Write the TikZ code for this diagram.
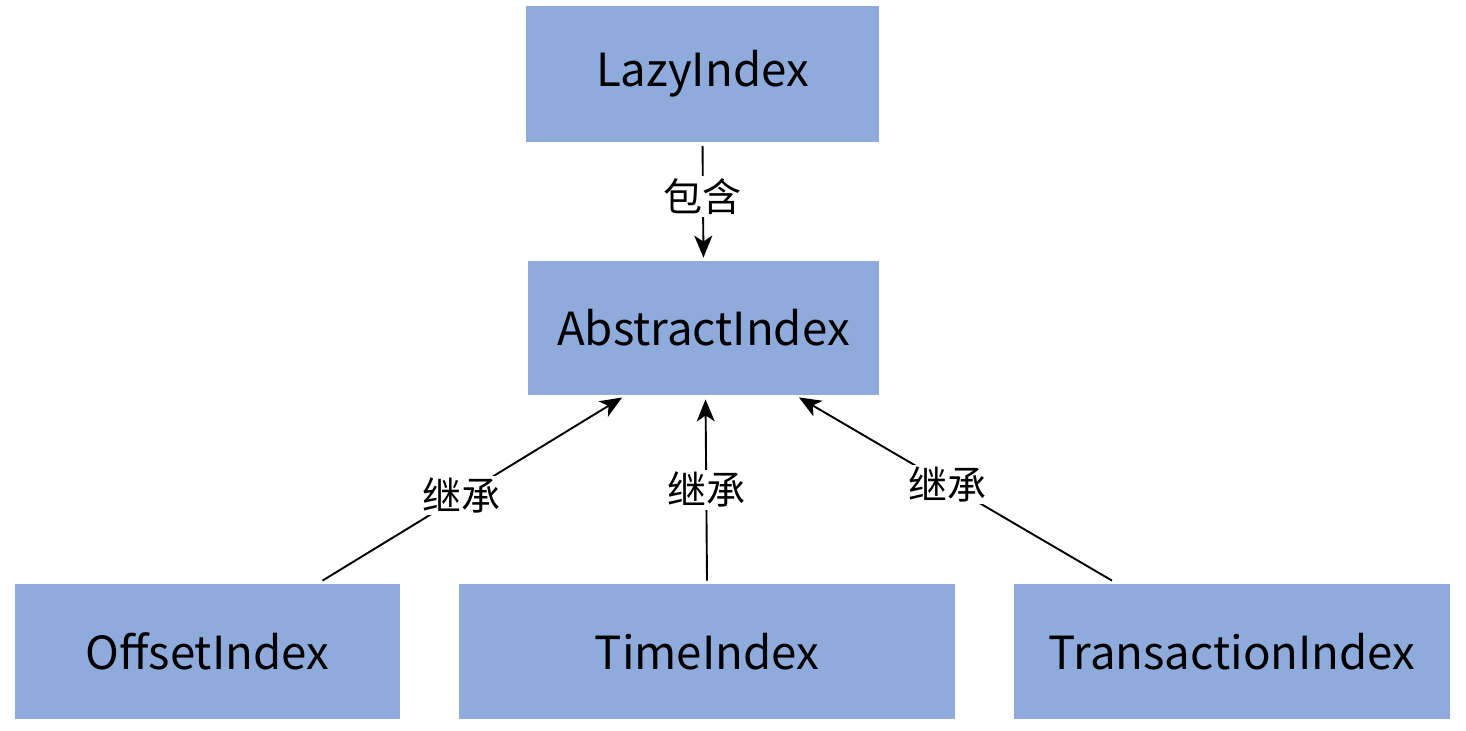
\documentclass[tikz,border=0pt]{standalone}
\usepackage{fontspec}
\setmainfont{Noto Sans CJK SC}
\usetikzlibrary{arrows.meta, positioning}
\definecolor{boxblue}{RGB}{143,171,220}

\begin{document}
\begin{tikzpicture}[x=0.5pt,y=-0.5pt,
  box/.style={fill=boxblue, inner sep=0pt, font=\fontsize{22.8}{26}\selectfont},
  lbl/.style={fill=white, inner sep=1pt, font=\fontsize{19.5}{23}\selectfont},
  link/.style={-{Stealth[length=11pt,width=9pt,inset=3pt]}, line width=0.95pt}]

\useasboundingbox (0,0) rectangle (1466,730);

% --- classi
\node[box, minimum width=176.5pt, minimum height=68pt] (lazy) at (702.5,73.5) {LazyIndex};
\node[box, minimum width=175.5pt, minimum height=67pt] (abs) at (703.5,328) {AbstractIndex};
\node[box, minimum width=192.5pt, minimum height=67.5pt] (off) at (207.5,651.5) {OffsetIndex};
\node[box, minimum width=248pt, minimum height=67.5pt] (time) at (707,651.5) {TimeIndex};
\node[box, minimum width=218pt, minimum height=67.5pt] (trans) at (1232,651.5) {TransactionIndex};

% --- contenimento
\draw[link, shorten <=2pt, shorten >=1.5pt] (lazy.south) -- node[lbl, pos=0.46] {包含} (abs.north);

% --- ereditarieta
\draw[link, shorten >=2pt] ([xshift=57.5pt,yshift=1.5pt]off.north) -- node[lbl, pos=0.46] {继承} ([xshift=-39pt]abs.south);
\draw[link, shorten >=2pt] ([yshift=1.5pt]time.north) -- node[lbl, pos=0.49] {继承} ([xshift=1pt]abs.south);
\draw[link, shorten >=2pt] ([xshift=-60pt,yshift=1.5pt]trans.north) -- node[lbl, pos=0.52] {继承} ([xshift=46pt]abs.south);

\end{tikzpicture}
\end{document}
